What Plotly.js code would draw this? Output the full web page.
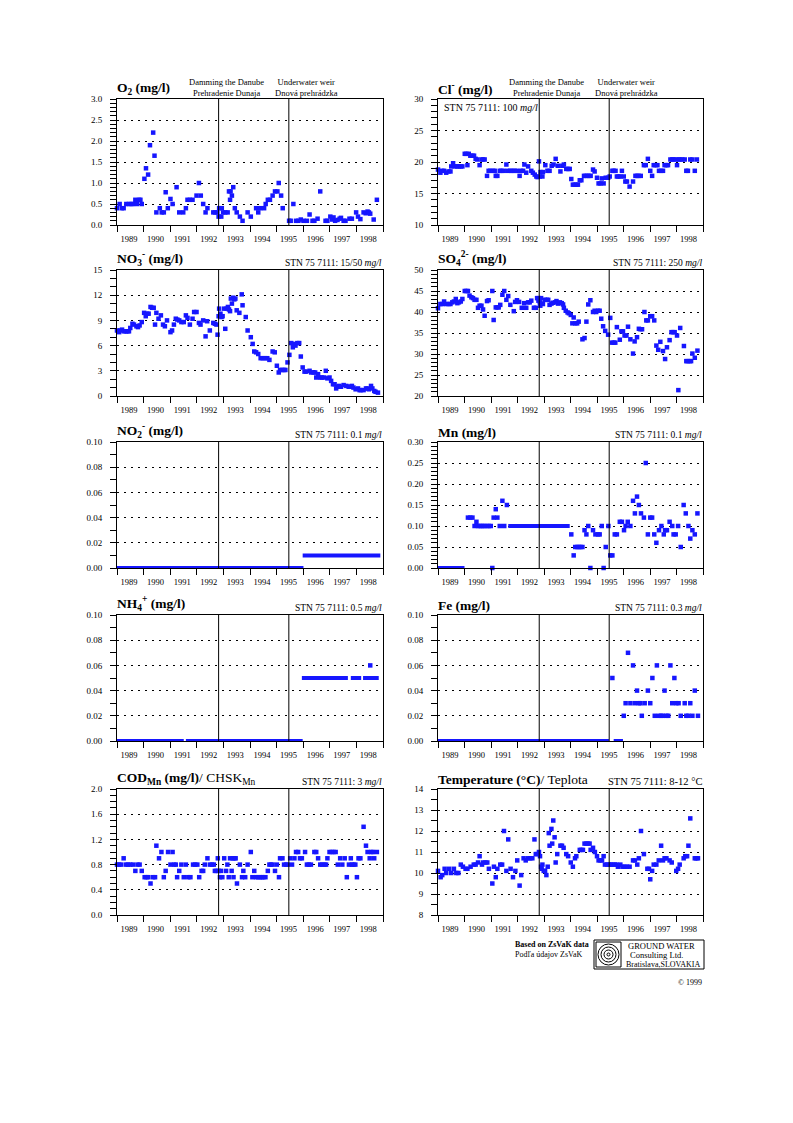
<!DOCTYPE html>
<html><head><meta charset="utf-8">
<script src="https://cdn.plot.ly/plotly-3.0.1.min.js"></script>
<style>html,body{margin:0;padding:0;background:#fff}</style>
</head><body><div id="chart" style="width:793px;height:1123px"></div>
<script>
// ---------- data ----------
const yearLabels = ['1989','1990','1991','1992','1993','1994','1995','1996','1997','1998'];
const yearLabelPos = [1989.45,1990.45,1991.45,1992.45,1993.45,1994.45,1995.45,1996.45,1997.45,1998.45];
const eventYears = [1992.82, 1995.46];
const eventLabels = ['Damming the Danube<br>Prehradenie Dunaja', 'Underwater weir<br>Dnová prehrádzka'];
const eventLabelYears = [1993.1, 1996.12];

const o2Year = [1989.00,1989.10,1989.18,1989.25,1989.35,1989.45,1989.54,1989.60,1989.69,1989.75,
1989.83,1989.88,1989.93,1990.03,1990.09,1990.17,1990.24,1990.36,1990.41,1990.48,
1990.61,1990.68,1990.76,1990.83,1990.91,1991.01,1991.09,1991.24,1991.34,1991.49,
1991.59,1991.65,1991.74,1991.84,1991.99,1992.08,1992.15,1992.24,1992.33,1992.40,
1992.62,1992.69,1992.77,1992.82,1992.84,1992.92,1992.94,1992.99,1993.07,1993.16,
1993.21,1993.25,1993.27,1993.32,1993.37,1993.43,1993.50,1993.62,1993.72,1993.91,
1994.03,1994.23,1994.31,1994.38,1994.53,1994.59,1994.67,1994.75,1994.85,1994.94,
1995.03,1995.08,1995.17,1995.23,1995.47,1995.53,1995.63,1995.73,1995.82,1995.91,
1996.01,1996.14,1996.24,1996.35,1996.42,1996.54,1996.64,1996.84,1996.91,1997.02,
1997.09,1997.14,1997.20,1997.29,1997.37,1997.42,1997.52,1997.59,1997.74,1997.83,
1997.99,1998.06,1998.15,1998.27,1998.35,1998.42,1998.47,1998.52,1998.65,1998.77];
const o2Val = [0.4,0.5,0.4,0.4,0.5,0.5,0.5,0.5,0.6,0.5,
0.6,0.6,0.5,1.1,1.35,1.2,1.9,2.2,1.65,0.3,
0.4,0.3,0.3,0.78,0.4,0.62,0.5,0.9,0.3,0.3,
0.4,0.6,0.6,0.6,0.7,1.0,0.7,0.5,0.3,0.4,
0.3,0.3,0.3,0.2,0.4,0.2,0.4,0.3,0.3,0.3,
0.8,0.6,0.8,0.7,0.9,0.4,0.3,0.2,0.1,0.3,
0.2,0.4,0.3,0.4,0.4,0.5,0.6,0.6,0.7,0.8,
0.8,1.0,0.7,0.4,0.1,0.1,0.5,0.1,0.1,0.13,
0.1,0.1,0.25,0.1,0.1,0.15,0.8,0.1,0.1,0.2,
0.13,0.18,0.1,0.12,0.15,0.17,0.1,0.1,0.15,0.15,
0.3,0.2,0.14,0.3,0.28,0.32,0.3,0.27,0.13,0.6];

const clYear = [1989.00,1989.09,1989.16,1989.23,1989.31,1989.40,1989.47,1989.50,1989.57,1989.63,
1989.72,1989.79,1989.86,1989.92,1990.01,1990.07,1990.11,1990.16,1990.22,1990.30,
1990.36,1990.42,1990.48,1990.57,1990.64,1990.70,1990.76,1990.85,1990.91,1990.97,
1991.08,1991.14,1991.18,1991.24,1991.33,1991.39,1991.48,1991.58,1991.64,1991.73,
1991.81,1991.89,1991.98,1992.08,1992.13,1992.21,1992.26,1992.33,1992.40,1992.52,
1992.58,1992.65,1992.71,1992.76,1992.81,1992.84,1992.87,1992.94,1992.96,1993.05,
1993.13,1993.21,1993.29,1993.36,1993.44,1993.52,1993.62,1993.69,1993.75,1993.84,
1993.91,1993.97,1994.03,1994.09,1994.16,1994.22,1994.28,1994.35,1994.41,1994.51,
1994.57,1994.64,1994.70,1994.76,1994.85,1994.91,1995.00,1995.06,1995.13,1995.18,
1995.25,1995.33,1995.42,1995.48,1995.58,1995.63,1995.70,1995.75,1995.81,1995.88,
1995.94,1996.01,1996.07,1996.13,1996.23,1996.36,1996.45,1996.51,1996.57,1996.65,
1996.77,1996.84,1996.92,1997.01,1997.08,1997.14,1997.21,1997.28,1997.34,1997.42,
1997.49,1997.55,1997.62,1997.68,1997.77,1997.84,1997.89,1997.97,1998.02,1998.08,
1998.14,1998.22,1998.31,1998.37,1998.43,1998.52,1998.60,1998.69,1998.77];
const clVal = [18.8,18.3,18.6,18.6,18.3,18.5,18.5,19.3,19.8,19.3,
19.3,19.3,19.3,19.3,21.3,21.3,19.5,21.3,21.0,21.0,
21.0,20.5,20.4,19.5,20.4,20.4,20.4,17.8,18.6,18.6,
18.6,18.6,17.8,17.8,18.6,18.6,18.6,19.6,18.6,18.6,
18.6,18.6,18.6,17.8,18.6,18.6,19.6,18.3,19.3,18.6,
18.3,18.0,17.7,17.6,20.1,17.7,18.4,17.7,18.4,19.5,
18.6,18.6,19.4,19.6,20.5,19.4,18.5,19.4,19.6,18.9,
18.9,18.9,17.3,16.4,16.4,16.4,16.4,17.1,17.1,17.8,
17.8,17.8,17.8,17.8,18.8,18.5,17.5,16.6,16.6,17.4,
16.6,17.5,17.5,17.7,18.6,18.6,18.6,17.7,17.7,17.7,
18.6,17.7,16.9,16.9,16.1,16.9,17.8,17.8,17.8,17.8,
19.5,19.5,20.5,18.6,17.8,19.5,19.5,19.5,18.6,18.6,
18.6,19.5,19.5,19.5,20.4,20.4,20.4,20.4,19.5,20.4,
20.4,20.4,20.4,18.6,18.6,20.4,20.4,18.6,20.4];

const no3Year = [1989.00,1989.08,1989.13,1989.19,1989.26,1989.33,1989.39,1989.45,1989.50,1989.58,
1989.64,1989.73,1989.79,1989.85,1989.93,1990.02,1990.08,1990.13,1990.19,1990.26,
1990.32,1990.38,1990.43,1990.48,1990.56,1990.65,1990.73,1990.80,1990.88,1991.01,
1991.07,1991.14,1991.21,1991.27,1991.34,1991.42,1991.51,1991.59,1991.65,1991.74,
1991.84,1991.90,1991.99,1992.08,1992.14,1992.24,1992.33,1992.39,1992.49,1992.62,
1992.68,1992.74,1992.78,1992.82,1992.84,1992.87,1992.89,1992.93,1992.97,1993.03,
1993.07,1993.12,1993.17,1993.21,1993.25,1993.28,1993.32,1993.37,1993.41,1993.45,
1993.50,1993.60,1993.69,1993.72,1993.84,1993.91,1994.03,1994.10,1994.16,1994.23,
1994.31,1994.40,1994.48,1994.57,1994.65,1994.73,1994.85,1994.93,1995.01,1995.08,
1995.13,1995.21,1995.28,1995.33,1995.41,1995.48,1995.55,1995.61,1995.66,1995.71,
1995.78,1995.85,1995.91,1995.98,1996.05,1996.11,1996.24,1996.30,1996.39,1996.45,
1996.49,1996.56,1996.64,1996.70,1996.79,1996.85,1996.91,1996.99,1997.05,1997.12,
1997.18,1997.24,1997.29,1997.35,1997.42,1997.52,1997.62,1997.71,1997.77,1997.83,
1997.89,1997.97,1998.06,1998.12,1998.17,1998.27,1998.36,1998.42,1998.47,1998.55,
1998.60,1998.67,1998.72,1998.81];
const no3Val = [7.8,7.6,7.8,7.9,7.7,7.7,7.7,7.7,8.1,8.6,
8.5,8.3,8.2,8.4,8.8,9.9,9.5,9.8,9.8,10.6,
10.5,10.5,8.5,9.9,9.2,9.6,8.5,8.3,9.0,7.6,
7.8,8.5,9.2,9.1,9.0,8.8,8.8,9.6,9.3,8.5,
9.2,10.0,10.0,8.7,8.5,9.0,7.1,8.9,7.8,8.7,
8.6,8.5,7.3,9.5,10.4,9.5,9.8,9.4,9.5,10.4,
8.0,10.4,10.6,10.3,10.1,11.6,11.0,11.7,11.5,11.6,
10.2,9.9,12.1,10.8,9.4,7.8,7.0,6.2,5.3,5.2,
5.0,4.5,4.5,4.5,4.5,4.3,5.3,5.2,3.6,2.8,
3.1,3.1,3.1,3.1,4.0,4.9,6.3,5.8,6.2,6.0,
6.3,6.3,4.7,3.4,2.9,2.9,3.0,2.8,2.8,2.8,
2.2,2.6,2.2,2.2,2.2,3.0,2.1,2.2,1.8,1.4,
1.4,0.9,1.1,1.2,1.1,1.3,1.2,1.1,1.1,1.2,
1.0,0.8,0.9,0.7,0.7,0.7,0.9,0.9,0.8,1.2,
0.9,0.6,0.5,0.4];

const so4Year = [1989.00,1989.09,1989.16,1989.23,1989.31,1989.40,1989.47,1989.54,1989.60,1989.67,
1989.73,1989.79,1989.86,1989.92,1990.01,1990.07,1990.13,1990.19,1990.26,1990.32,
1990.38,1990.45,1990.51,1990.57,1990.64,1990.70,1990.76,1990.85,1990.91,1991.05,
1991.10,1991.18,1991.24,1991.29,1991.35,1991.43,1991.50,1991.58,1991.65,1991.73,
1991.86,1991.91,1991.98,1992.06,1992.16,1992.25,1992.33,1992.40,1992.46,1992.52,
1992.62,1992.69,1992.74,1992.79,1992.81,1992.84,1992.86,1992.89,1992.92,1992.96,
1993.03,1993.10,1993.16,1993.21,1993.28,1993.34,1993.42,1993.47,1993.53,1993.60,
1993.67,1993.72,1993.75,1993.82,1993.89,1993.94,1994.01,1994.07,1994.12,1994.18,
1994.25,1994.31,1994.45,1994.53,1994.60,1994.67,1994.75,1994.85,1994.91,1994.97,
1995.04,1995.10,1995.16,1995.23,1995.31,1995.42,1995.50,1995.57,1995.63,1995.69,
1995.75,1995.86,1995.92,1995.98,1996.04,1996.11,1996.17,1996.26,1996.36,1996.42,
1996.51,1996.58,1996.64,1996.70,1996.79,1996.86,1996.92,1997.01,1997.08,1997.16,
1997.24,1997.31,1997.39,1997.49,1997.57,1997.64,1997.74,1997.81,1997.87,1997.93,
1998.02,1998.07,1998.14,1998.28,1998.37,1998.42,1998.50,1998.55,1998.60,1998.69,
1998.79];
const so4Val = [40.9,41.9,41.9,42.5,41.9,41.9,41.9,42.3,42.5,43.1,
42.1,42.3,42.5,43.1,45.0,45.0,45.0,43.9,43.5,43.3,
42.9,42.9,41.0,41.5,41.5,40.6,39.1,42.6,42.8,45.0,
38.1,41.1,41.1,41.1,41.7,44.1,45.0,42.9,43.8,41.7,
40.2,42.4,42.8,42.4,41.0,42.1,41.0,42.3,42.3,42.7,
41.0,41.0,43.3,42.7,43.3,42.3,41.5,43.3,42.0,41.9,
42.9,42.9,42.9,41.7,42.0,42.2,42.3,42.6,42.0,42.3,
42.1,41.8,41.0,40.3,39.9,39.7,39.3,37.3,38.7,37.3,
37.3,37.7,33.5,33.8,37.7,41.8,42.8,40.0,40.3,40.0,
40.3,40.3,38.4,36.6,35.5,34.6,38.6,32.7,32.7,32.7,
36.4,33.4,35.4,35.4,34.4,34.4,36.5,33.5,30.1,33.0,
34.0,36.0,35.9,35.9,40.0,38.0,38.0,39.0,39.0,38.0,
32.0,31.0,32.9,30.7,28.8,31.6,33.3,35.2,35.2,35.2,
34.4,21.4,36.2,31.9,28.3,28.3,28.3,28.3,30.1,29.1,
30.8];

const no2BandYear = [1989.0,1996.01,null,1995.98,1998.90];
const no2BandVal  = [0,0,null,0.01,0.01];

const mnYear = [1990.13,1990.22,1990.30,1990.38,1990.45,1990.51,1990.57,1990.64,1990.70,1990.76,
1990.85,1990.92,1990.99,1991.05,1991.10,1991.18,1991.24,1991.33,1991.43,1991.50,
1991.60,1994.03,1994.12,1994.18,1994.26,1994.32,1994.38,1994.45,1994.53,1994.60,
1994.67,1994.75,1994.85,1994.94,1995.04,1995.10,1995.18,1995.25,1995.33,1995.43,
1995.50,1995.58,1995.67,1995.75,1995.86,1995.94,1996.02,1996.08,1996.16,1996.26,
1996.36,1996.43,1996.51,1996.58,1996.66,1996.77,1996.84,1996.92,1997.01,1997.08,
1997.16,1997.24,1997.34,1997.43,1997.52,1997.57,1997.64,1997.74,1997.84,1997.89,
1997.97,1998.06,1998.16,1998.27,1998.35,1998.45,1998.52,1998.60,1998.69,1998.79];
const mnVal = [0.12,0.12,0.12,0.10,0.11,0.10,0.10,0.10,0.10,0.10,
0.10,0.10,0.10,0.00,0.12,0.14,0.12,0.10,0.16,0.10,
0.15,0.08,0.03,0.05,0.05,0.05,0.05,0.05,0.09,0.08,
0.10,0.00,0.09,0.08,0.08,0.08,0.10,0.00,0.05,0.10,
0.03,0.03,0.08,0.08,0.11,0.11,0.09,0.10,0.11,0.10,
0.16,0.13,0.17,0.15,0.13,0.12,0.25,0.08,0.12,0.12,
0.08,0.06,0.09,0.10,0.08,0.09,0.09,0.11,0.10,0.08,
0.08,0.10,0.05,0.15,0.13,0.10,0.07,0.09,0.08,0.13];
const mnBandYear = [1989.0,1990.0,null,1991.65,1993.97];
const mnBandVal  = [0,0,null,0.10,0.10];

const nh4Year = [1998.52];
const nh4Val  = [0.06];
const nh4BandYear = [1989.0,1991.51,null,1991.59,1995.98,null,1995.95,1997.68,null,1997.79,1998.18,null,1998.25,1998.84];
const nh4BandVal  = [0,0,null,0,0,null,0.05,0.05,null,0.05,0.05,null,0.05,0.05];

const feYear = [1995.58,1996.01,1996.08,1996.17,1996.26,1996.36,1996.43,1996.51,1996.58,1996.64,
1996.69,1996.80,1996.92,1997.01,1997.09,1997.18,1997.26,1997.34,1997.42,1997.49,
1997.55,1997.62,1997.69,1997.77,1997.84,1997.92,1997.99,1998.08,1998.16,1998.31,
1998.37,1998.45,1998.52,1998.60,1998.69,1998.81];
const feVal = [0.05,0.02,0.03,0.07,0.03,0.06,0.03,0.04,0.03,0.03,
0.02,0.03,0.04,0.03,0.05,0.02,0.06,0.02,0.02,0.02,
0.04,0.02,0.02,0.06,0.03,0.05,0.03,0.03,0.02,0.03,
0.02,0.02,0.03,0.02,0.04,0.02];
const feBandYear = [1989.0,1995.45,null,1995.63,1995.98];
const feBandVal  = [0,0,null,0,0];

const codYear = [1989.00,1989.08,1989.15,1989.25,1989.33,1989.41,1989.50,1989.60,1989.69,1989.77,
1989.85,1989.93,1990.04,1990.11,1990.18,1990.26,1990.36,1990.43,1990.48,1990.58,
1990.67,1990.76,1990.83,1990.92,1991.01,1991.09,1991.15,1991.21,1991.26,1991.34,
1991.42,1991.51,1991.59,1991.68,1991.76,1991.86,1991.94,1992.02,1992.09,1992.18,
1992.24,1992.30,1992.40,1992.49,1992.57,1992.64,1992.68,1992.74,1992.79,1992.82,
1992.87,1992.91,1992.96,1993.03,1993.10,1993.15,1993.20,1993.25,1993.31,1993.35,
1993.38,1993.41,1993.46,1993.51,1993.62,1993.70,1993.75,1993.82,1993.91,1994.03,
1994.09,1994.16,1994.23,1994.31,1994.38,1994.44,1994.50,1994.58,1994.67,1994.73,
1994.79,1994.85,1994.94,1995.01,1995.09,1995.13,1995.22,1995.28,1995.36,1995.42,
1995.51,1995.58,1995.67,1995.73,1995.81,1995.88,1995.95,1996.07,1996.14,1996.21,
1996.29,1996.42,1996.49,1996.56,1996.64,1996.71,1996.80,1996.86,1996.91,1996.99,
1997.07,1997.14,1997.22,1997.30,1997.39,1997.47,1997.56,1997.64,1997.72,1997.79,
1997.83,1997.89,1997.96,1998.02,1998.08,1998.15,1998.27,1998.36,1998.42,1998.50,
1998.56,1998.62,1998.67,1998.77];
const codVal = [0.8,0.8,0.8,0.9,0.8,0.8,0.8,0.8,0.7,0.8,
0.8,0.7,0.6,0.6,0.6,0.5,0.6,0.6,1.1,0.9,
1.0,0.6,0.7,1.0,0.8,1.0,0.8,0.8,0.6,0.7,
0.8,0.6,0.8,0.6,0.6,0.8,0.8,0.8,0.6,0.7,
0.7,0.8,0.9,0.8,0.8,0.8,0.7,0.7,0.9,0.7,
0.6,0.7,0.6,0.9,0.7,0.8,0.6,0.9,0.7,0.9,
0.6,0.9,0.9,0.5,0.8,0.6,0.7,0.6,0.8,1.0,
0.6,0.7,0.6,0.6,0.6,0.6,0.6,0.6,0.7,0.8,
0.8,0.8,0.7,0.8,0.6,0.9,0.9,0.8,0.8,0.8,
0.9,0.8,0.9,1.0,1.0,0.9,0.9,1.0,0.8,0.8,
0.8,1.0,1.0,0.9,0.8,0.8,0.8,0.8,0.9,1.0,
1.0,1.0,1.0,0.8,0.9,0.8,0.9,0.6,0.8,0.9,
0.8,0.8,0.8,0.6,0.9,0.9,1.4,1.1,1.0,0.9,
1.0,1.0,0.9,1.0];

const tempYear = [1989.00,1989.10,1989.16,1989.25,1989.31,1989.42,1989.50,1989.60,1989.69,1989.77,
1989.86,1989.94,1990.04,1990.11,1990.23,1990.35,1990.42,1990.51,1990.57,1990.66,
1990.70,1990.79,1990.86,1990.92,1991.05,1991.11,1991.18,1991.24,1991.35,1991.42,
1991.49,1991.58,1991.65,1991.74,1991.83,1991.92,1991.99,1992.08,1992.14,1992.23,
1992.31,1992.40,1992.48,1992.56,1992.64,1992.69,1992.75,1992.81,1992.85,1992.89,
1992.91,1992.94,1992.99,1993.04,1993.09,1993.14,1993.18,1993.21,1993.28,1993.31,
1993.35,1993.40,1993.44,1993.50,1993.62,1993.68,1993.74,1993.84,1993.91,1994.01,
1994.09,1994.17,1994.22,1994.35,1994.41,1994.47,1994.53,1994.60,1994.66,1994.72,
1994.76,1994.85,1994.92,1995.00,1995.06,1995.13,1995.19,1995.25,1995.30,1995.38,
1995.45,1995.52,1995.58,1995.67,1995.73,1995.79,1995.88,1995.96,1996.04,1996.13,
1996.23,1996.36,1996.43,1996.52,1996.58,1996.66,1996.77,1996.90,1996.96,1997.01,
1997.08,1997.14,1997.24,1997.33,1997.42,1997.49,1997.55,1997.62,1997.74,1997.82,
1997.99,1998.06,1998.12,1998.27,1998.33,1998.40,1998.45,1998.52,1998.69,1998.75,
1998.81];
const tempVal = [10.1,9.8,9.9,10.2,10.0,10.2,10.0,10.2,10.0,10.0,
10.4,10.3,10.2,10.2,10.3,10.4,10.4,10.5,10.8,10.4,
10.5,10.5,10.5,10.2,9.5,10.3,9.8,10.2,10.4,10.4,
12.0,10.1,11.6,10.2,9.8,10.1,10.6,9.4,9.9,10.7,
10.6,10.7,10.7,10.7,11.6,10.9,10.9,11.0,10.8,10.3,
10.2,10.4,10.1,10.1,9.9,10.3,11.9,11.3,12.1,11.4,
12.5,11.7,10.5,10.9,11.3,11.3,11.2,10.9,10.8,10.5,
10.3,10.7,10.8,11.1,11.1,11.1,11.4,11.4,11.4,11.4,
11.1,11.2,11.0,10.8,10.6,10.6,10.6,10.8,10.4,10.4,
10.4,10.4,10.4,10.4,10.4,10.3,10.4,10.3,10.3,10.3,
10.3,10.6,10.6,10.4,10.7,12.0,10.9,10.2,10.2,9.7,
10.1,10.4,10.4,10.6,11.3,10.6,10.7,10.7,10.6,10.5,
10.1,10.2,10.4,10.7,10.8,10.8,11.3,12.6,10.7,10.7,
10.7];

// ---------- chart ----------
const W = 793, H = 1123;
const BLUE = 'rgb(22,22,255)';
const FONT = 'Liberation Serif, Times New Roman, serif';
const colL = [117, 438], colR = [383, 703];
const rowT = [99, 270, 442, 615, 789], rowH = 126;
const px = v => v / W, py = v => 1 - v / H;

const panels = [
  {title:'<b>O<sub>2</sub> (mg/l)</b>', stn:'', x:o2Year, y:o2Val, range:[0,3], dtick:0.5, minor:0.1, fmt:'.1f'},
  {title:'<b>Cl<sup>-</sup> (mg/l)</b>', stn:'', inner:'STN 75 7111: 100 <i>mg/l</i>', x:clYear, y:clVal, range:[10,30], dtick:5, minor:1, fmt:'d'},
  {title:'<b>NO<sub>3</sub><sup>-</sup> (mg/l)</b>', stn:'STN 75 7111: 15/50 <i>mg/l</i>', x:no3Year, y:no3Val, range:[0,15], dtick:3, minor:1, fmt:'d'},
  {title:'<b>SO<sub>4</sub><sup>2-</sup> (mg/l)</b>', stn:'STN 75 7111: 250 <i>mg/l</i>', x:so4Year, y:so4Val, range:[20,50], dtick:5, minor:1, fmt:'d'},
  {title:'<b>NO<sub>2</sub><sup>-</sup> (mg/l)</b>', stn:'STN 75 7111: 0.1 <i>mg/l</i>', x:[], y:[], bx:no2BandYear, by:no2BandVal, range:[0,0.1], dtick:0.02, minor:0.01, fmt:'.2f'},
  {title:'<b>Mn (mg/l)</b>', stn:'STN 75 7111: 0.1 <i>mg/l</i>', x:mnYear, y:mnVal, bx:mnBandYear, by:mnBandVal, range:[0,0.3], dtick:0.05, minor:0.01, fmt:'.2f'},
  {title:'<b>NH<sub>4</sub><sup>+</sup> (mg/l)</b>', stn:'STN 75 7111: 0.5 <i>mg/l</i>', x:nh4Year, y:nh4Val, bx:nh4BandYear, by:nh4BandVal, range:[0,0.1], dtick:0.02, minor:0.01, fmt:'.2f'},
  {title:'<b>Fe (mg/l)</b>', stn:'STN 75 7111: 0.3 <i>mg/l</i>', x:feYear, y:feVal, bx:feBandYear, by:feBandVal, range:[0,0.1], dtick:0.02, minor:0.01, fmt:'.2f'},
  {title:'<b>COD<sub>Mn</sub> (mg/l)</b>/ CHSK<sub>Mn</sub>', stn:'STN 75 7111: 3 <i>mg/l</i>', x:codYear, y:codVal, range:[0,2], dtick:0.4, minor:0.1, fmt:'.1f'},
  {title:'<b>Temperature (°C)</b>/ Teplota', stn:'STN 75 7111: 8-12 °C', stnSize:10.5, x:tempYear, y:tempVal, range:[8,14], dtick:1, minor:0.5, fmt:'d'}
];

const traces = [];
const layout = {
  width: W, height: H, margin:{l:0,r:0,t:0,b:0}, showlegend:false,
  paper_bgcolor:'#fff', plot_bgcolor:'#fff', font:{family:FONT, color:'#000'},
  shapes:[], annotations:[]
};

panels.forEach((p, i) => {
  const n = i + 1, sfx = n === 1 ? '' : String(n);
  const col = i % 2, row = Math.floor(i / 2);
  const xr = 'x' + sfx, yr = 'y' + sfx;
  layout['xaxis' + sfx] = {
    domain:[px(colL[col]), px(colR[col])], anchor: yr, range:[1989, 1999],
    tickmode:'array', tickvals: yearLabelPos, ticktext: yearLabels, ticks:'',
    showgrid:false, zeroline:false, showline:true, mirror:true, linecolor:'#000', linewidth:1,
    tickfont:{family:FONT, size:8.5, color:'#000'}, ticklabelstandoff:6,
    minor:{tickmode:'linear', tick0:1989, dtick:1, ticks:'outside', ticklen:6, tickcolor:'#000', tickwidth:1, showgrid:false},
    fixedrange:true
  };
  layout['yaxis' + sfx] = {
    domain:[py(rowT[row] + rowH), py(rowT[row])], anchor: xr, range: p.range,
    tickmode:'linear', tick0: p.range[0], dtick: p.dtick, tickformat: p.fmt,
    ticks:'outside', ticklen:6, tickcolor:'#000', tickwidth:1,
    showgrid:true, gridcolor:'#000', gridwidth:1, griddash:'2px,5px',
    zeroline:false, showline:true, mirror:true, linecolor:'#000', linewidth:1,
    tickfont:{family:FONT, size:9, color:'#000'}, ticklabelstandoff:6,
    minor:{tickmode:'linear', tick0: p.range[0], dtick: p.minor, ticks:'outside', ticklen:6, tickcolor:'#000', tickwidth:1, showgrid:false},
    fixedrange:true
  };
  if (p.bx) {
    traces.push({x:p.bx, y:p.by, xaxis:xr, yaxis:yr, mode:'lines', connectgaps:false,
      line:{color:BLUE, width:4}, hoverinfo:'skip'});
  }
  if (p.x.length) {
    traces.push({x:p.x, y:p.y, xaxis:xr, yaxis:yr, mode:'markers', cliponaxis:false,
      marker:{symbol:'square', size:4.5, color:BLUE, line:{width:0}}, hoverinfo:'skip'});
  }
  eventYears.forEach(ev => {
    layout.shapes.push({type:'line', xref:xr, yref: yr + ' domain', x0:ev, x1:ev, y0:0, y1:1,
      line:{color:'#000', width:1}, layer:'above'});
  });
  layout.annotations.push({text:p.title, xref:'paper', yref:'paper', x:px(colL[col] - 1), y:py(rowT[row] - 1),
    xanchor:'left', yanchor:'bottom', showarrow:false, borderpad:0, font:{family:FONT, size:13.5, color:'#000'}});
  if (p.stn) {
    layout.annotations.push({text:p.stn, xref:'paper', yref:'paper', x:px(colR[col]), y:py(rowT[row] - 1),
      xanchor:'right', yanchor:'bottom', showarrow:false, borderpad:0, font:{family:FONT, size:p.stnSize || 9.5, color:'#000'}});
  }
  if (p.inner) {
    layout.annotations.push({text:p.inner, xref:'paper', yref:'paper', x:px(colL[col] + 5), y:py(rowT[row] + 9),
      xanchor:'left', yanchor:'middle', showarrow:false, borderpad:0, font:{family:FONT, size:10, color:'#000'}});
  }
  if (row === 0) {
    eventLabels.forEach((t, k) => {
      layout.annotations.push({text:t, xref:xr, yref:'paper', x:eventLabelYears[k], y:py(rowT[row]),
        xanchor:'center', yanchor:'bottom', showarrow:false, borderpad:0,
        font:{family:FONT, size:8.5, color:'#000'}});
    });
  }
});

// footer credits and logo
layout.annotations.push(
  {text:'<b>Based on ZsVaK data</b>', xref:'paper', yref:'paper', x:px(513), y:py(944), xanchor:'left', yanchor:'middle', showarrow:false, font:{family:FONT, size:8, color:'#000'}},
  {text:'Podľa údajov ZsVaK', xref:'paper', yref:'paper', x:px(513), y:py(954), xanchor:'left', yanchor:'middle', showarrow:false, font:{family:FONT, size:8, color:'#000'}},
  {text:'GROUND WATER', xref:'paper', yref:'paper', x:px(661), y:py(946), xanchor:'center', yanchor:'middle', showarrow:false, font:{family:FONT, size:8.5, color:'#000'}},
  {text:'Consulting Ltd.', xref:'paper', yref:'paper', x:px(656), y:py(955), xanchor:'center', yanchor:'middle', showarrow:false, font:{family:FONT, size:8.5, color:'#000'}},
  {text:'Bratislava,SLOVAKIA', xref:'paper', yref:'paper', x:px(663), y:py(964), xanchor:'center', yanchor:'middle', showarrow:false, font:{family:FONT, size:8, color:'#000'}},
  {text:'© 1999', xref:'paper', yref:'paper', x:px(704), y:py(982), xanchor:'right', yanchor:'middle', showarrow:false, font:{family:FONT, size:8, color:'#000'}}
);
layout.shapes.push(
  {type:'rect', xref:'paper', yref:'paper', x0:px(594), x1:px(704), y0:py(969), y1:py(940), line:{color:'#000', width:1}},
  {type:'rect', xref:'paper', yref:'paper', x0:px(596), x1:px(621), y0:py(967), y1:py(942), line:{color:'#000', width:1}},
  {type:'circle', xref:'paper', yref:'paper', x0:px(598), x1:px(619), y0:py(965), y1:py(944), line:{color:'#000', width:1}},
  {type:'circle', xref:'paper', yref:'paper', x0:px(601), x1:px(616), y0:py(962), y1:py(947), line:{color:'#000', width:1}},
  {type:'circle', xref:'paper', yref:'paper', x0:px(604), x1:px(613), y0:py(959), y1:py(950), line:{color:'#000', width:1}},
  {type:'circle', xref:'paper', yref:'paper', x0:px(607), x1:px(610), y0:py(956), y1:py(953), line:{color:'#000', width:1}}
);

Plotly.newPlot('chart', traces, layout, {staticPlot:true, displayModeBar:false});
</script>
</body></html>
